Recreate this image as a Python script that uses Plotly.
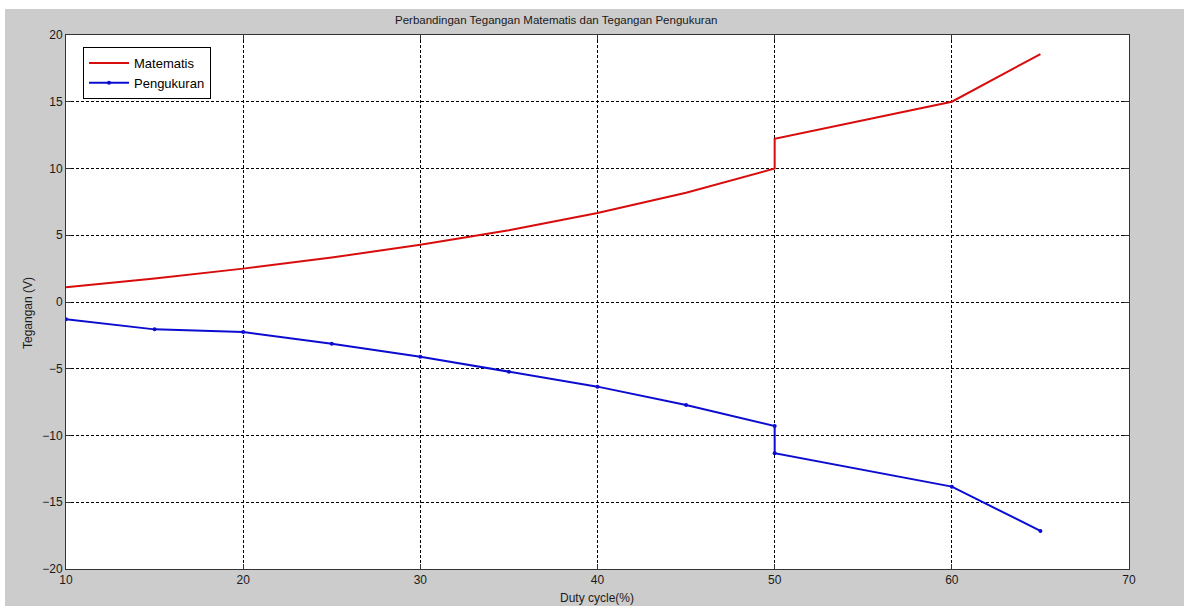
import plotly.graph_objects as go

duty = [10, 15, 20, 25, 30, 35, 40, 45, 50, 50, 60, 65]
matematis = [1.11, 1.76, 2.50, 3.33, 4.29, 5.38, 6.67, 8.18, 10.0, 12.22, 15.0, 18.57]
pengukuran = [-1.30, -2.05, -2.25, -3.12, -4.10, -5.22, -6.34, -7.72, -9.29, -11.33, -13.83, -17.15]

x_ticks = [10, 20, 30, 40, 50, 60, 70]
y_ticks = [-20, -15, -10, -5, 0, 5, 10, 15, 20]

W, H = 1184, 606
L, R, T, B = 66, 55, 35, 37
pw, ph = W - L - R, H - T - B

def px2x(px):
    return (px - L) / pw

def py2y(py):
    return 1 + (T - py) / ph

FAM = "Liberation Sans, Arial, sans-serif"
font = dict(family=FAM, size=12, color="#1a1a1a")

fig = go.Figure()
fig.add_trace(go.Scatter(x=duty, y=matematis, mode="lines", name="Matematis",
                         line=dict(color="#d80c0c", width=2)))
fig.add_trace(go.Scatter(x=duty, y=pengukuran, mode="lines+markers", name="Pengukuran",
                         line=dict(color="#0c0cd0", width=2),
                         marker=dict(symbol="circle", size=4, color="#0c0cd0")))

axis_common = dict(showline=True, linecolor="#333333", linewidth=1, mirror="ticks",
                   ticks="inside", ticklen=5, tickcolor="#333333",
                   showgrid=True, gridcolor="#000000", gridwidth=1, griddash="3px,2px",
                   zeroline=False, tickfont=font)

fig.update_layout(
    width=W, height=H,
    margin=dict(l=L, r=R, t=T, b=B),
    paper_bgcolor="#cccccc",
    plot_bgcolor="#ffffff",
    font=font,
    showlegend=True,
    legend=dict(x=px2x(83), y=py2y(47), xanchor="left", yanchor="top",
                bgcolor="#ffffff", bordercolor="#000000", borderwidth=1,
                font=dict(family=FAM, size=13, color="#000000"),
                tracegroupgap=0, itemwidth=40),
    xaxis=dict(range=[10, 70], tickvals=x_ticks, **axis_common),
    yaxis=dict(range=[-20, 20], tickvals=y_ticks, **axis_common),
    shapes=[
        dict(type="rect", xref="paper", yref="paper", x0=px2x(-5), x1=px2x(W + 5),
             y0=py2y(9), y1=py2y(-5), fillcolor="#ffffff", line=dict(width=0), layer="below"),
        dict(type="rect", xref="paper", yref="paper", x0=px2x(-5), x1=px2x(5),
             y0=py2y(H + 5), y1=py2y(-5), fillcolor="#ffffff", line=dict(width=0), layer="below"),
    ],
    annotations=[
        dict(text="Perbandingan Tegangan Matematis dan Tegangan Pengukuran",
             xref="paper", yref="paper", x=px2x(556), y=py2y(20),
             xanchor="center", yanchor="middle", showarrow=False,
             font=dict(family=FAM, size=11.5, color="#1a1a1a")),
        dict(text="Duty cycle(%)", xref="paper", yref="paper", x=px2x(597), y=py2y(598),
             xanchor="center", yanchor="middle", showarrow=False, font=font),
        dict(text="Tegangan (V)", xref="paper", yref="paper", x=px2x(28), y=py2y(313),
             xanchor="center", yanchor="middle", textangle=-90, showarrow=False, font=font),
    ],
)

fig.write_html("out.html")
